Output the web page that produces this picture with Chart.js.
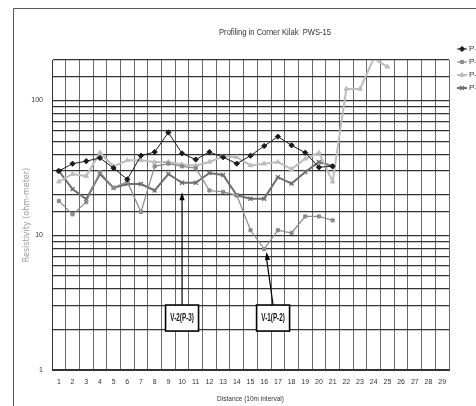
<!DOCTYPE html>
<html>
<head>
<meta charset="utf-8">
<script src="https://cdn.jsdelivr.net/npm/chart.js@4.4.1/dist/chart.umd.min.js"></script>
<style>
  html, body { margin: 0; padding: 0; background: #fff; overflow: hidden; }
  #wrap { width: 476px; height: 406px; position: relative; }
</style>
</head>
<body>
<div id="wrap"><canvas id="profileChart"></canvas></div>
<script>
// profiling data (resistivity, ohm-meter)
const chartTitle = 'Profiling in Corner Kilak  PWS-15';
const distance = ['1', '2', '3', '4', '5', '6', '7', '8', '9', '10', '11', '12', '13', '14', '15',
  '16', '17', '18', '19', '20', '21', '22', '23', '24', '25', '26', '27', '28', '29'];
const seriesNames = ['P-1', 'P-2', 'P-3', 'P-4'];
const p1 = [30, 34, 35.5, 37.5, 31.5, 26, 39, 41.5, 58, 40.5, 36.5, 41.5, 38, 34, 39, 46, 54, 46.5, 41, 32, 32.5];
const p2 = [18, 14.3, 17.6, 29.5, 22.5, 25, 14.9, 32.5, 34, 32.5, 31.5, 21.5, 21, 19.8, 10.9, 7.9, 10.9, 10.4, 13.8, 13.8, 12.9];
const p3 = [25, 28.5, 27.5, 41, 32.5, 36, 36, 35, 35, 33.5, 33, 35, 38.5, 38, 33, 34, 35, 31, 37, 41, 25, 122, 122, 205, 178];
const p4 = [30, 22, 18.5, 28.5, 22.5, 24, 24, 21.5, 28.5, 24.5, 24.5, 29, 28, 19.8, 18.7, 18.7, 27, 24.2, 29.5, 35, 32.5];
const yTickLabels = [1, 10, 100];

// callouts in axis units: x = category index (0-based), y = resistivity
const callouts = [
  { text: 'V-2(P-3)', boxX: 9, boxY: 2.43, tipX: 9, tipY: 20.9 },
  { text: 'V-1(P-2)', boxX: 15.65, boxY: 2.43, tipX: 15.17, tipY: 7.5 }
];

const NARROW = '"Liberation Sans Narrow", "Liberation Sans", sans-serif';
const frame = { left: 13, top: 8, right: 537 };

const styles = [
  { color: '#1a1a1a', marker: 'rectRot', radius: 2.6, width: 1 },
  { color: '#8c8c8c', marker: 'rect', radius: 2.2, width: 1.2 },
  { color: '#bdbdbd', marker: 'triangle', radius: 2.6, width: 2 },
  { color: '#6e6e6e', marker: 'crossRot', radius: 2.8, width: 2 }
];

const datasets = [p1, p2, p3, p4].map((data, i) => ({
  label: seriesNames[i],
  data,
  borderColor: styles[i].color,
  backgroundColor: styles[i].color,
  borderWidth: styles[i].width,
  pointStyle: styles[i].marker,
  pointRadius: styles[i].radius,
  pointBorderWidth: i === 3 ? 1.4 : 1,
  pointBorderColor: styles[i].color,
  pointBackgroundColor: styles[i].color,
  tension: 0,
  fill: false
}));

// draw text squeezed horizontally, the scan uses a condensed face
function narrowText(ctx, text, x, y, squeeze) {
  ctx.save();
  ctx.translate(x, y);
  ctx.scale(squeeze, 1);
  ctx.fillText(text, 0, 0);
  ctx.restore();
}

const chromePlugin = {
  id: 'chrome',
  beforeDraw(chart) {
    const { ctx, width, height } = chart;
    ctx.save();
    ctx.fillStyle = '#fff';
    ctx.fillRect(0, 0, width, height);
    ctx.strokeStyle = '#555';
    ctx.lineWidth = 1;
    ctx.beginPath();
    ctx.moveTo(frame.left + 0.5, height);
    ctx.lineTo(frame.left + 0.5, frame.top + 0.5);
    ctx.lineTo(frame.right, frame.top + 0.5);
    ctx.stroke();
    ctx.fillStyle = '#333';
    ctx.font = '9.5px ' + NARROW;
    ctx.textAlign = 'center';
    ctx.textBaseline = 'middle';
    narrowText(ctx, chartTitle, (frame.left + frame.right) / 2, 32, 0.8);
    ctx.restore();
  }
};

// excel style legend sitting right of the plot, partly cut off by the page edge
const sideLegend = {
  id: 'sideLegend',
  afterDraw(chart) {
    const { ctx, chartArea } = chart;
    ctx.save();
    chart.data.datasets.forEach((ds, i) => {
      const y = chartArea.top - 11 + i * 13;
      const x0 = chartArea.right + 8;
      ctx.strokeStyle = ds.borderColor;
      ctx.fillStyle = ds.borderColor;
      ctx.lineWidth = ds.borderWidth;
      ctx.beginPath();
      ctx.moveTo(x0, y);
      ctx.lineTo(x0 + 10, y);
      ctx.stroke();
      ctx.lineWidth = ds.pointBorderWidth;
      Chart.helpers.drawPoint(ctx, { pointStyle: ds.pointStyle, radius: ds.pointRadius, borderWidth: ds.pointBorderWidth, rotation: 0 }, x0 + 5, y);
      ctx.fillStyle = '#333';
      ctx.font = '8px ' + NARROW;
      ctx.textAlign = 'left';
      ctx.textBaseline = 'middle';
      ctx.fillText(ds.label, x0 + 12, y);
    });
    ctx.restore();
  }
};

const calloutPlugin = {
  id: 'callouts',
  afterDatasetsDraw(chart) {
    const { ctx, scales: { x, y } } = chart;
    ctx.save();
    callouts.forEach(c => {
      const bx = x.getPixelForValue(c.boxX);
      const by = y.getPixelForValue(c.boxY);
      const tx = x.getPixelForValue(c.tipX);
      const ty = y.getPixelForValue(c.tipY);
      const w = 33, h = 26;
      const top = by - h / 2;
      // arrow shaft
      ctx.strokeStyle = '#000';
      ctx.lineWidth = 1.2;
      ctx.beginPath();
      ctx.moveTo(bx, top);
      ctx.lineTo(tx, ty + 6);
      ctx.stroke();
      // arrow head
      const ang = Math.atan2(ty - top, tx - bx);
      ctx.fillStyle = '#000';
      ctx.beginPath();
      ctx.moveTo(tx, ty);
      ctx.lineTo(tx - 8 * Math.cos(ang) + 2.6 * Math.sin(ang), ty - 8 * Math.sin(ang) - 2.6 * Math.cos(ang));
      ctx.lineTo(tx - 8 * Math.cos(ang) - 2.6 * Math.sin(ang), ty - 8 * Math.sin(ang) + 2.6 * Math.cos(ang));
      ctx.closePath();
      ctx.fill();
      // label box
      ctx.fillStyle = '#fff';
      ctx.fillRect(bx - w / 2, top, w, h);
      ctx.lineWidth = 1.6;
      ctx.strokeRect(bx - w / 2, top, w, h);
      ctx.fillStyle = '#111';
      ctx.font = 'bold 10.5px ' + NARROW;
      ctx.textAlign = 'center';
      ctx.textBaseline = 'middle';
      narrowText(ctx, c.text, bx, by + 0.5, 0.6);
    });
    ctx.restore();
  }
};

new Chart(document.getElementById('profileChart').getContext('2d'), {
  type: 'line',
  data: { labels: distance, datasets },
  plugins: [chromePlugin, calloutPlugin, sideLegend],
  options: {
    responsive: true,
    maintainAspectRatio: false,
    animation: false,
    layout: { padding: { top: 60, right: 27, bottom: 0, left: 0 } },
    plugins: {
      legend: { display: false },
      title: { display: false },
      tooltip: { enabled: false }
    },
    scales: {
      x: {
        type: 'category',
        offset: true,
        grid: { offset: true, color: '#6a6a6a', lineWidth: 1, drawTicks: false },
        border: { color: '#333' },
        ticks: { autoSkip: false, maxRotation: 0, padding: 8, color: '#333', font: { family: NARROW, size: 7 } },
        title: { display: true, text: 'Distance (10m interval)', color: '#333', font: { family: NARROW, size: 6.5 }, padding: { top: 0, bottom: 3 } },
        afterFit: (s) => { s.height = 36; }
      },
      y: {
        type: 'logarithmic',
        min: 1,
        max: 200,
        grid: { color: '#333', lineWidth: 1.2, drawTicks: false },
        border: { color: '#333' },
        ticks: {
          padding: 9,
          color: '#333',
          font: { family: NARROW, size: 7 },
          callback: (v) => yTickLabels.includes(v) ? String(v) : ''
        },
        title: { display: true, text: 'Resistivity (ohm-meter)', color: '#9a9a9a', font: { family: 'DejaVu Sans', size: 8 }, padding: { top: 22, bottom: 0 } },
        afterFit: (s) => { s.width = 52; }
      }
    }
  }
});
</script>
</body>
</html>
